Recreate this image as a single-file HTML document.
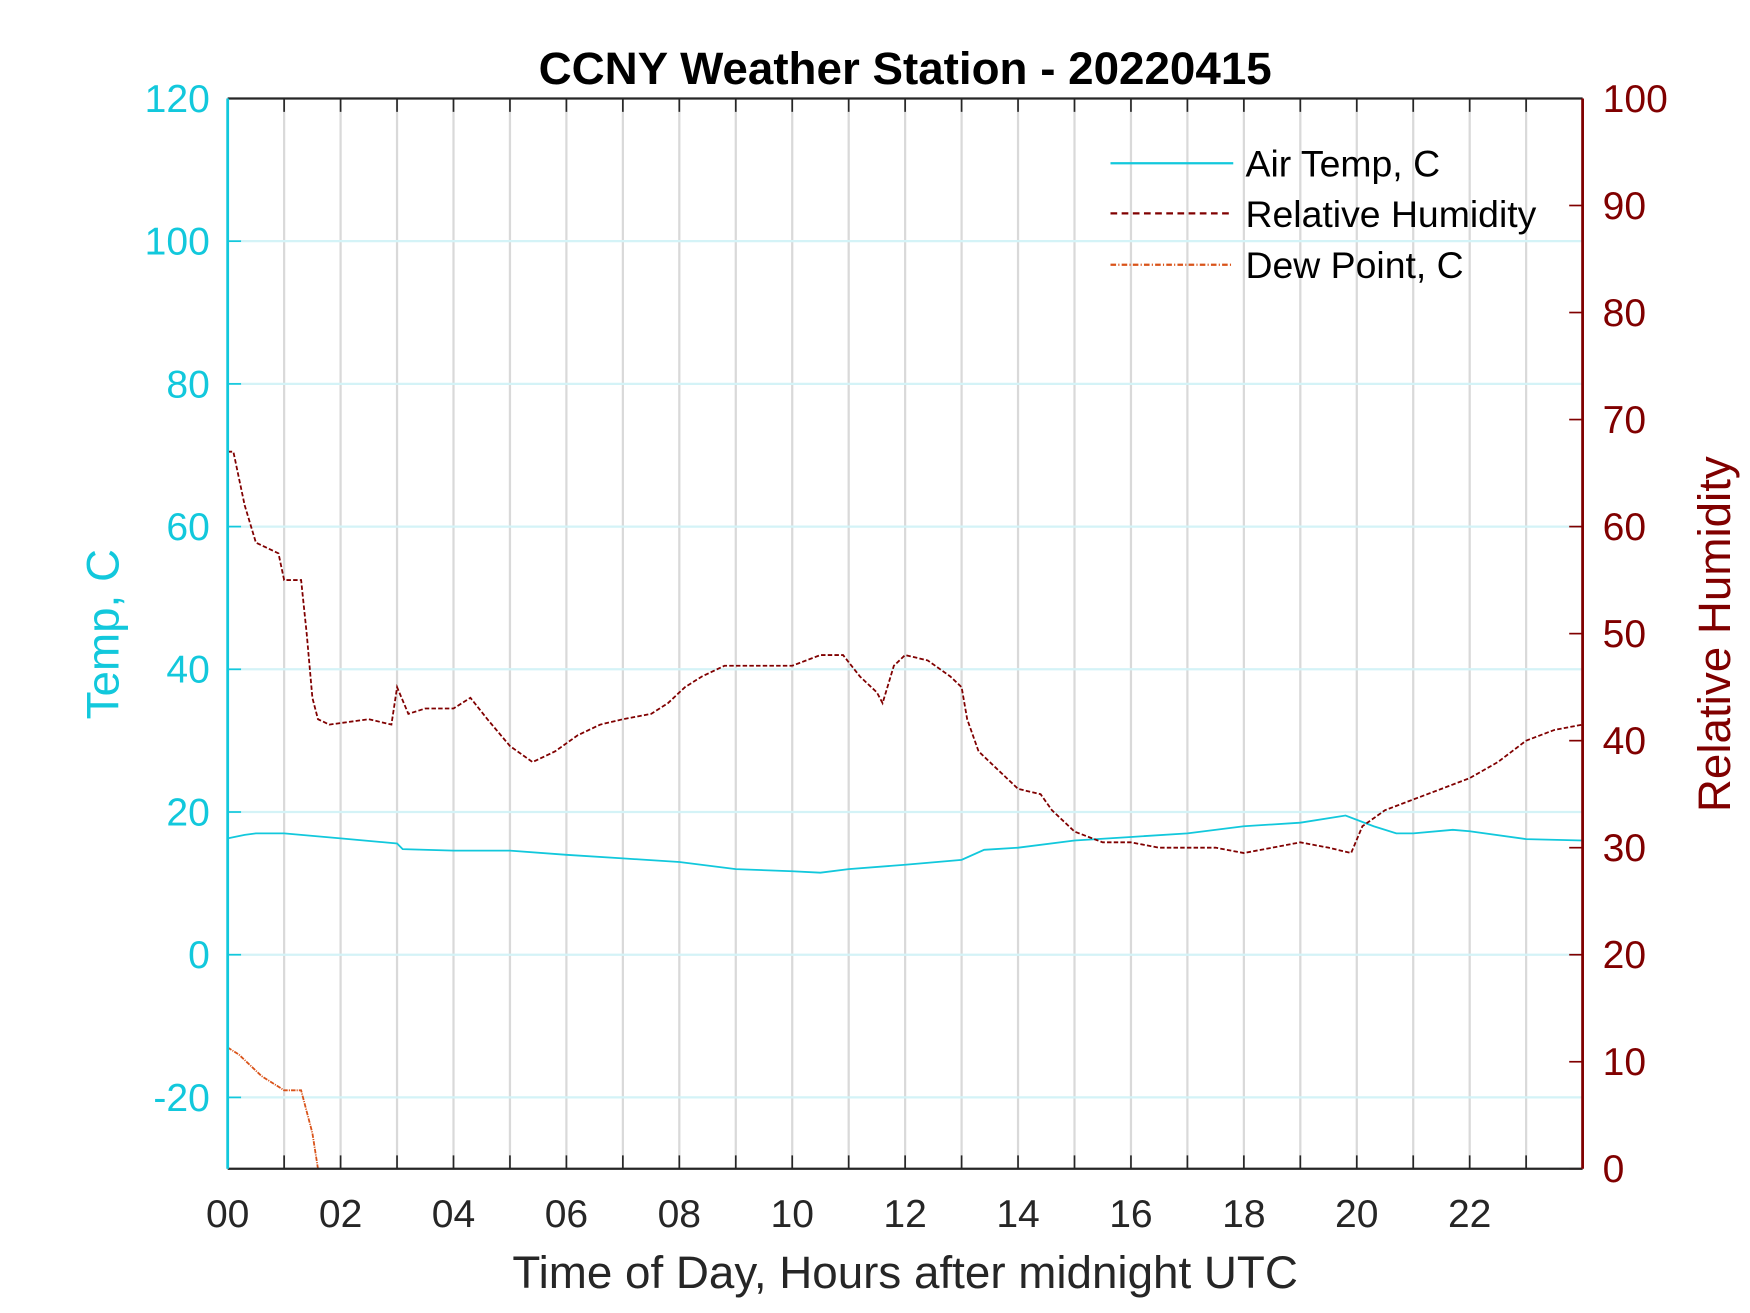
<!DOCTYPE html>
<html><head><meta charset="utf-8"><style>
html,body{margin:0;padding:0;background:#fff;}
svg{display:block;font-family:"Liberation Sans",Arial,sans-serif;}
</style></head>
<body>
<svg id="chart" width="1750" height="1313" viewBox="0 0 1568 1176" xmlns="http://www.w3.org/2000/svg">
<rect width="1568" height="1176" fill="#fff"/>
<g id="grid"></g>
<g id="series"></g>
<g id="axes"></g>
<text x="811" y="75" text-anchor="middle" font-size="41" font-weight="bold" fill="#000">CCNY Weather Station - 20220415</text>
<text x="811" y="1154" text-anchor="middle" font-size="41" fill="#262626">Time of Day, Hours after midnight UTC</text>
<text transform="translate(106,568) rotate(-90)" text-anchor="middle" font-size="41" fill="#12C8DC">Temp, C</text>
<text transform="translate(1550,568) rotate(-90)" text-anchor="middle" font-size="41" fill="#800000">Relative Humidity</text>
<g>
<line x1="995" y1="146" x2="1105" y2="146" stroke="#12C8DC" stroke-width="2"/>
<text x="1116" y="158" font-size="33.5" fill="#000">Air Temp, C</text>
<line x1="995" y1="191" x2="1105" y2="191" stroke="#800000" stroke-width="2" stroke-dasharray="6,4"/>
<text x="1116" y="203" font-size="33.5" fill="#000">Relative Humidity</text>
<line x1="995" y1="237" x2="1105" y2="237" stroke="#D95319" stroke-width="2" stroke-dasharray="5,2,1,2"/>
<text x="1116" y="249" font-size="33.5" fill="#000">Dew Point, C</text>
</g>
</svg>
<script>
const tempHours=[0,0.3,0.5,1,2,3,3.1,4,5,6,7,8,9,10,10.5,11,12,13,13.4,14,15,16,17,18,19,19.8,20.3,20.7,21,21.7,22,23,24];
const tempValues=[16.3,16.8,17,17,16.3,15.6,14.8,14.6,14.6,14,13.5,13,12,11.7,11.5,12,12.6,13.3,14.7,15,16,16.5,17,18,18.5,19.5,18,17,17,17.5,17.3,16.2,16];
const rhHours=[0,0.1,0.3,0.5,0.9,1.0,1.3,1.4,1.5,1.6,1.8,2.5,2.9,3.0,3.2,3.5,4.0,4.3,4.6,5.0,5.4,5.8,6.2,6.6,7,7.5,7.8,8.1,8.4,8.8,9.5,10,10.5,10.9,11.2,11.5,11.6,11.8,12.0,12.4,12.8,13.0,13.1,13.3,13.6,14,14.4,14.6,15,15.5,16,16.5,17,17.5,18,18.5,19,19.5,19.9,20.1,20.5,21,21.5,22,22.5,23,23.5,24];
const rhValues=[67,67,62,58.5,57.5,55,55,50,44,42,41.5,42,41.5,45,42.5,43,43,44,42,39.5,38,39,40.5,41.5,42,42.5,43.5,45,46,47,47,47,48,48,46,44.5,43.5,47,48,47.5,46,45,42,39,37.5,35.5,35,33.5,31.5,30.5,30.5,30,30,30,29.5,30,30.5,30,29.5,32,33.5,34.5,35.5,36.5,38,40,41,41.5];
const dewHours=[0,0.2,0.6,1.0,1.3,1.5,1.6,1.7];
const dewValues=[-13,-14,-17,-19,-19,-25,-30,-31];
const xTicks=[0,2,4,6,8,10,12,14,16,18,20,22];
const xTickLabels=["00","02","04","06","08","10","12","14","16","18","20","22"];
const tempTicks=[-20,0,20,40,60,80,100,120];
const rhTicks=[0,10,20,30,40,50,60,70,80,90,100];

const L=204,R=1418,T=88,B=1047;
const NS="http://www.w3.org/2000/svg";
const xs=h=>L+(h/24)*(R-L);
const yT=v=>B-(v+30)/150*(B-T);
const yR=v=>B-v/100*(B-T);
function mk(tag,attrs,parent){const e=document.createElementNS(NS,tag);for(const k in attrs)e.setAttribute(k,attrs[k]);parent.appendChild(e);return e;}
const grid=document.getElementById('grid'),axes=document.getElementById('axes'),series=document.getElementById('series');

for(let h=1;h<24;h++){
 const g=mk('line',{x1:xs(h),x2:xs(h),y1:T,y2:B,stroke:'#d9d9d9','stroke-width':2},grid);
 
 
 const t1=mk('line',{x1:xs(h),x2:xs(h),y1:B,y2:B-12,stroke:'#262626','stroke-width':1.5},axes);
 
 
 const t2=mk('line',{x1:xs(h),x2:xs(h),y1:T,y2:T+12,stroke:'#262626','stroke-width':1.5},axes);
 
 
}
tempTicks.forEach(v=>{
 if(v>-30&&v<120){const g=mk('line',{x1:L,x2:R,y1:yT(v),y2:yT(v),stroke:'#d4f3f7','stroke-width':2},grid);
 
 }
 const tk=mk('line',{x1:L,x2:L+12,y1:yT(v),y2:yT(v),stroke:'#12C8DC','stroke-width':1.5},axes);
 
 
 const t=mk('text',{x:L-16,y:yT(v)+12,'text-anchor':'end','font-size':35,fill:'#12C8DC'},axes);
 t.textContent=v;
 
 
});
rhTicks.forEach(v=>{
 const tk=mk('line',{x1:R-12,x2:R,y1:yR(v),y2:yR(v),stroke:'#800000','stroke-width':1.5},axes);
 
 
 const t=mk('text',{x:R+18,y:yR(v)+12,'text-anchor':'start','font-size':35,fill:'#800000'},axes);
 t.textContent=v;
 
 
});
xTicks.forEach((h,i)=>{
 const t=mk('text',{x:xs(h),y:B+52,'text-anchor':'middle','font-size':35,fill:'#262626'},axes);
 t.textContent=xTickLabels[i];
 
 
});
const ax1=mk('line',{x1:L,x2:R,y1:B,y2:B,stroke:'#262626','stroke-width':2},axes);


const ax2=mk('line',{x1:L,x2:R,y1:T,y2:T,stroke:'#262626','stroke-width':2},axes);


const ax3=mk('line',{x1:L,x2:L,y1:T,y2:B,stroke:'#12C8DC','stroke-width':2.5},axes);


const ax4=mk('line',{x1:R,x2:R,y1:T,y2:B,stroke:'#800000','stroke-width':2.5},axes);



const clip=mk('clipPath',{id:'pc'},series);
mk('rect',{x:L,y:T,width:R-L,height:B-T},clip);
function pts(hs,vs,f){return hs.map((h,i)=>xs(h).toFixed(1)+','+f(vs[i]).toFixed(1)).join(' ');}
const tl=mk('polyline',{points:pts(tempHours,tempValues,yT),fill:'none',stroke:'#12C8DC','stroke-width':1.6,'clip-path':'url(#pc)'},series);


const rl=mk('polyline',{points:pts(rhHours,rhValues,yR),fill:'none',stroke:'#800000','stroke-width':1.6,'stroke-dasharray':'4,2','clip-path':'url(#pc)'},series);


const dl=mk('polyline',{points:pts(dewHours,dewValues,yT),fill:'none',stroke:'#D95319','stroke-width':1.6,'stroke-dasharray':'4,1,1,1','clip-path':'url(#pc)'},series);


</script>
</body></html>
